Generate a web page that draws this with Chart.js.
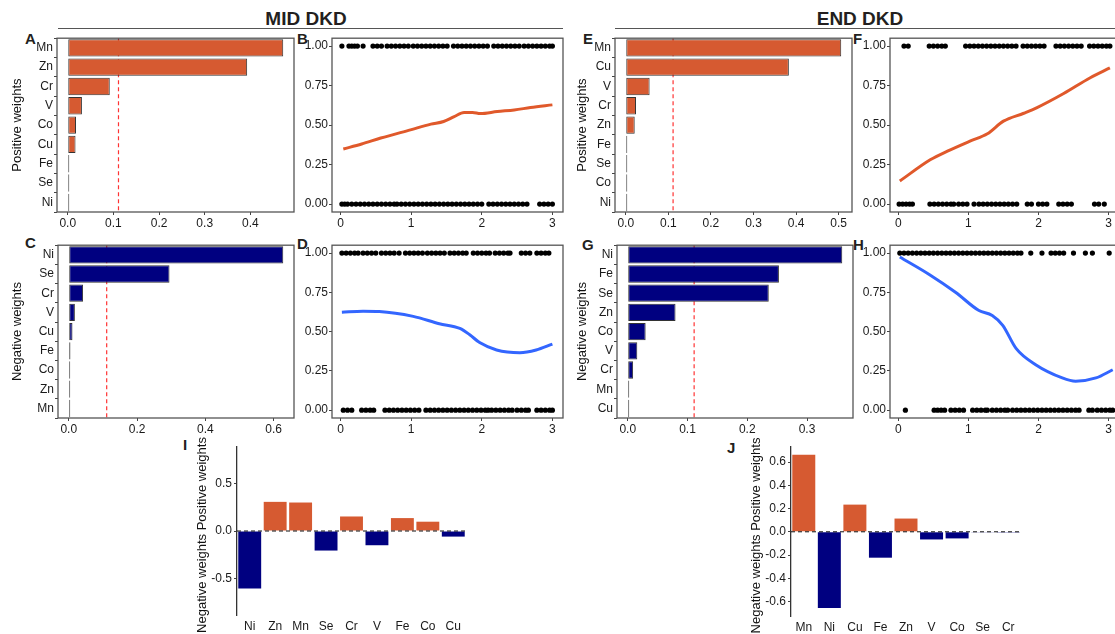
<!DOCTYPE html>
<html lang="en">
<head>
  <meta charset="UTF-8">
  <title>MID DKD / END DKD weights</title>
  <script src="https://cdn.jsdelivr.net/npm/chart.js"></script>
  <style>
    body {
      margin: 0;
      width: 1115px;
      height: 634px;
      overflow: hidden;
      position: relative;
      background: #fff;
      font-family: "Liberation Sans", Arial, sans-serif;
    }
    canvas { position: absolute; }
    .hd {
      position: absolute;
      font-weight: bold;
      font-size: 19px;
      line-height: 1;
      color: #231f20;
      transform: translateX(-50%);
      white-space: nowrap;
    }
    .rule {
      position: absolute;
      height: 0;
      border-top: 1.5px solid #555;
    }
    .tag {
      position: absolute;
      font-weight: bold;
      font-size: 15px;
      line-height: 1;
      color: #231f20;
    }
  </style>
</head>
<body>
  <div class="hd" style="left:306px; top:9px;">MID DKD</div>
  <div class="hd" style="left:860px; top:9px;">END DKD</div>
  <div class="rule" style="left:58px; top:28px; width:505px;"></div>
  <div class="rule" style="left:615px; top:28px; width:500px;"></div>

  <div class="tag" style="left:25px; top:31px;">A</div>
  <div class="tag" style="left:297px; top:31px;">B</div>
  <div class="tag" style="left:25px; top:235px;">C</div>
  <div class="tag" style="left:297px; top:236px;">D</div>
  <div class="tag" style="left:583px; top:31px;">E</div>
  <div class="tag" style="left:853px; top:31px;">F</div>
  <div class="tag" style="left:582px; top:237px;">G</div>
  <div class="tag" style="left:853px; top:237px;">H</div>
  <div class="tag" style="left:183px; top:437px;">I</div>
  <div class="tag" style="left:727px; top:440px;">J</div>

  <canvas id="cA"></canvas>
  <canvas id="cB"></canvas>
  <canvas id="cC"></canvas>
  <canvas id="cD"></canvas>
  <canvas id="cE"></canvas>
  <canvas id="cF"></canvas>
  <canvas id="cG"></canvas>
  <canvas id="cH"></canvas>
  <canvas id="cI"></canvas>
  <canvas id="cJ"></canvas>

  <script>
    // ---- data ----
    const threshold = 1 / 9;

    // MID DKD
    const aCats = ['Mn', 'Zn', 'Cr', 'V', 'Co', 'Cu', 'Fe', 'Se', 'Ni'];
    const aVals = [0.472, 0.393, 0.092, 0.031, 0.018, 0.017, 0.002, 0.001, 0.0005];
    const aTicks = [0, 0.1, 0.2, 0.3, 0.4];

    const cCats = ['Ni', 'Se', 'Cr', 'V', 'Cu', 'Fe', 'Co', 'Zn', 'Mn'];
    const cVals = [0.628, 0.295, 0.042, 0.018, 0.011, 0.005, 0.002, 0.001, 0.0005];
    const cTicks = [0, 0.2, 0.4, 0.6];

    const bTop = [0.02,0.12,0.16,0.2,0.24,0.32,0.46,0.52,0.58,0.66,0.72,0.78,0.84,0.9,0.96,1.03,1.09,1.15,1.21,1.27,1.33,1.39,1.45,1.51,1.6,1.66,1.72,1.78,1.84,1.9,1.96,2.02,2.08,2.17,2.23,2.29,2.35,2.41,2.47,2.53,2.6,2.66,2.72,2.78,2.84,2.9,2.96,3.0];
    const bBottom = [0.02,0.06,0.1,0.16,0.22,0.28,0.34,0.4,0.46,0.52,0.58,0.64,0.7,0.76,0.8,0.86,0.92,0.98,1.04,1.1,1.16,1.22,1.28,1.34,1.4,1.46,1.52,1.58,1.64,1.7,1.76,1.82,1.88,1.94,2.0,2.1,2.16,2.22,2.28,2.34,2.4,2.46,2.52,2.58,2.64,2.82,2.88,2.94,3.0];
    const bCurve = [[0.04,0.349],[0.3,0.38],[0.57,0.418],[0.99,0.47],[1.28,0.506],[1.46,0.523],[1.61,0.554],[1.75,0.58],[1.87,0.58],[1.98,0.573],[2.22,0.586],[2.46,0.596],[2.69,0.611],[3.0,0.628]];

    const dTop = [0.02,0.08,0.14,0.2,0.25,0.32,0.38,0.44,0.5,0.58,0.64,0.7,0.76,0.83,0.92,0.98,1.04,1.1,1.16,1.23,1.29,1.35,1.41,1.47,1.55,1.61,1.67,1.73,1.78,1.88,1.94,2.0,2.06,2.11,2.19,2.25,2.31,2.37,2.4,2.56,2.62,2.68,2.78,2.84,2.9,2.95];
    const dBottom = [0.04,0.1,0.16,0.3,0.36,0.42,0.47,0.63,0.69,0.75,0.81,0.87,0.93,0.99,1.05,1.11,1.21,1.27,1.33,1.39,1.45,1.51,1.57,1.63,1.69,1.75,1.81,1.87,1.93,1.99,2.05,2.09,2.14,2.2,2.26,2.32,2.38,2.43,2.5,2.56,2.62,2.66,2.78,2.84,2.9,2.96,3.0];
    const dCurve = [[0.02,0.623],[0.32,0.63],[0.55,0.628],[1.03,0.597],[1.4,0.55],[1.69,0.52],[1.83,0.48],[1.97,0.43],[2.21,0.383],[2.54,0.366],[2.77,0.383],[3.0,0.42]];

    // END DKD
    const eCats = ['Mn', 'Cu', 'V', 'Cr', 'Zn', 'Fe', 'Se', 'Co', 'Ni'];
    const eVals = [0.506, 0.383, 0.056, 0.024, 0.021, 0.001, 0.0008, 0.0005, 0.0003];
    const eTicks = [0, 0.1, 0.2, 0.3, 0.4, 0.5];

    const gCats = ['Ni', 'Fe', 'Se', 'Zn', 'Co', 'V', 'Cr', 'Mn', 'Cu'];
    const gVals = [0.359, 0.253, 0.236, 0.080, 0.030, 0.016, 0.009, 0.001, 0.0005];
    const gTicks = [0, 0.1, 0.2, 0.3];

    const fTop = [0.08,0.14,0.44,0.5,0.56,0.62,0.67,0.96,1.02,1.08,1.14,1.2,1.26,1.32,1.38,1.44,1.5,1.56,1.62,1.68,1.78,1.84,1.9,1.96,2.02,2.08,2.25,2.31,2.37,2.43,2.49,2.55,2.61,2.73,2.79,2.85,2.91,2.97,3.02];
    const fBottom = [0.01,0.06,0.11,0.16,0.2,0.45,0.51,0.57,0.63,0.69,0.75,0.79,0.86,0.92,0.98,1.08,1.15,1.21,1.27,1.33,1.39,1.45,1.51,1.57,1.63,1.69,1.84,1.9,2.0,2.06,2.12,2.29,2.35,2.41,2.47,2.8,2.86,2.94];
    const fCurve = [[0.02,0.146],[0.46,0.282],[0.7,0.335],[1.03,0.4],[1.27,0.445],[1.5,0.525],[1.79,0.575],[1.98,0.611],[2.36,0.7],[2.74,0.8],[3.02,0.862]];

    const hTop = [0.02,0.08,0.14,0.2,0.26,0.32,0.38,0.44,0.5,0.56,0.62,0.68,0.74,0.8,0.86,0.92,0.98,1.04,1.1,1.16,1.22,1.28,1.34,1.4,1.46,1.52,1.58,1.64,1.7,1.75,1.89,2.05,2.18,2.24,2.3,2.36,2.5,2.67,2.77,3.01];
    const hBottom = [0.1,0.51,0.56,0.61,0.66,0.75,0.81,0.87,0.93,1.06,1.12,1.18,1.24,1.27,1.34,1.4,1.46,1.52,1.56,1.63,1.69,1.75,1.81,1.87,1.93,1.99,2.05,2.11,2.17,2.23,2.29,2.35,2.41,2.47,2.53,2.58,2.72,2.77,2.84,2.9,2.96,3.02,3.06];
    const hCurve = [[0.02,0.975],[0.44,0.864],[0.82,0.749],[1.15,0.634],[1.34,0.603],[1.49,0.54],[1.68,0.393],[1.96,0.289],[2.34,0.205],[2.53,0.184],[2.82,0.205],[3.06,0.257]];

    const probXTicks = [0, 1, 2, 3];
    const probYTicks = [0, 0.25, 0.5, 0.75, 1];

    // combined weights
    const iCats = ['Ni', 'Zn', 'Mn', 'Se', 'Cr', 'V', 'Fe', 'Co', 'Cu'];
    const iVals = [-0.606, 0.307, 0.300, -0.206, 0.153, -0.150, 0.136, 0.098, -0.059];
    const iTicks = [-0.5, 0, 0.5];

    const jCats = ['Mn', 'Ni', 'Cu', 'Fe', 'Zn', 'V', 'Co', 'Se', 'Cr'];
    const jVals = [0.663, -0.657, 0.234, -0.223, 0.114, -0.066, -0.057, -0.003, -0.002];
    const jTicks = [-0.6, -0.4, -0.2, 0, 0.2, 0.4, 0.6];

    // ---- styling ----
    const orange = '#D65A31';
    const navy = '#000080';
    const FONT = 'Liberation Sans, Arial, sans-serif';
    Chart.defaults.font.family = FONT;
    Chart.defaults.font.size = 12;
    Chart.defaults.color = '#1a1a1a';

    // panel frame, threshold line, zero line and long side title
    const panelBox = {
      id: 'panelBox',
      beforeDatasetsDraw(chart, args, opts) {
        if (opts.vline === undefined) return;
        const { ctx, chartArea: a, scales } = chart;
        const x = scales.x.getPixelForValue(opts.vline);
        ctx.save();
        ctx.strokeStyle = '#F33';
        ctx.lineWidth = 1.2;
        ctx.setLineDash([4, 3]);
        ctx.beginPath();
        ctx.moveTo(x, a.top);
        ctx.lineTo(x, a.bottom);
        ctx.stroke();
        ctx.restore();
      },
      afterDatasetsDraw(chart, args, opts) {
        const { ctx, chartArea: a, scales } = chart;
        ctx.save();
        if (opts.hline !== undefined) {
          const y = scales.y.getPixelForValue(opts.hline);
          ctx.strokeStyle = '#111';
          ctx.lineWidth = 1;
          ctx.setLineDash([4, 3]);
          ctx.beginPath();
          ctx.moveTo(a.left, y);
          ctx.lineTo(a.right, y);
          ctx.stroke();
        }
        if (opts.frame) {
          ctx.setLineDash([]);
          ctx.strokeStyle = '#555';
          ctx.lineWidth = 1.3;
          ctx.strokeRect(a.left, a.top, a.width, a.height);
        }
        if (opts.sideTitle) {
          ctx.translate(opts.sideX, (a.top + a.bottom) / 2 + 4);
          ctx.rotate(-Math.PI / 2);
          ctx.fillStyle = '#111';
          ctx.font = '13px ' + FONT;
          ctx.textAlign = 'center';
          ctx.textBaseline = 'middle';
          ctx.fillText(opts.sideTitle, 0, 0);
        }
        ctx.restore();
      }
    };
    Chart.register(panelBox);

    function place(id, box, ml, mr, mt, mb) {
      const cv = document.getElementById(id);
      cv.width = box[2] - box[0] + ml + mr;
      cv.height = box[3] - box[1] + mt + mb;
      cv.style.left = (box[0] - ml) + 'px';
      cv.style.top = (box[1] - mt) + 'px';
      return cv;
    }

    function fixedTicks(list) {
      return s => { s.ticks = list.map(v => ({ value: v })); };
    }

    const tickGrid = { drawOnChartArea: false, tickLength: 3, color: '#444' };
    const base = {
      responsive: false,
      animation: false,
      events: []
    };

    function weightsPanel(id, box, ml, cats, vals, color, ticks, title) {
      const cv = place(id, box, ml, 4, 6, 24);
      const top = Math.max(...vals);
      return new Chart(cv, {
        type: 'bar',
        data: {
          labels: cats,
          datasets: [{
            data: vals,
            backgroundColor: color,
            borderColor: '#333',
            borderWidth: 1,
            borderSkipped: false,
            barPercentage: 0.9,
            categoryPercentage: 1,
            minBarLength: 1.5
          }]
        },
        options: {
          ...base,
          indexAxis: 'y',
          layout: { padding: { top: 6, right: 4 } },
          plugins: {
            legend: { display: false },
            tooltip: { enabled: false },
            panelBox: { vline: threshold, frame: true }
          },
          scales: {
            x: {
              min: -0.05 * top,
              max: 1.05 * top,
              afterBuildTicks: fixedTicks(ticks),
              afterFit: s => { s.height = 24; },
              grid: tickGrid,
              border: { display: false },
              ticks: { padding: 1, autoSkip: false, maxRotation: 0, callback: v => v.toFixed(1) }
            },
            y: {
              afterFit: s => { s.width = ml; },
              grid: tickGrid,
              border: { display: false },
              ticks: { padding: 1, autoSkip: false },
              title: { display: true, text: title, padding: 0, color: '#111', font: { size: 13 } }
            }
          }
        }
      });
    }

    function probPanel(id, box, top, bottom, curve, color) {
      const cv = place(id, box, 40, 4, 6, 24);
      const dot = { pointRadius: 2.6, pointBackgroundColor: '#000', pointBorderWidth: 0 };
      return new Chart(cv, {
        type: 'scatter',
        data: {
          datasets: [
            { data: top.map(x => ({ x, y: 1 })), ...dot },
            { data: bottom.map(x => ({ x, y: 0 })), ...dot },
            {
              data: curve.map(p => ({ x: p[0], y: p[1] })),
              showLine: true,
              pointRadius: 0,
              borderColor: color,
              borderWidth: 3,
              cubicInterpolationMode: 'monotone'
            }
          ]
        },
        options: {
          ...base,
          layout: { padding: { top: 6, right: 4 } },
          plugins: {
            legend: { display: false },
            tooltip: { enabled: false },
            panelBox: { frame: true }
          },
          scales: {
            x: {
              type: 'linear',
              min: -0.12,
              max: 3.15,
              afterBuildTicks: fixedTicks(probXTicks),
              afterFit: s => { s.height = 24; },
              grid: tickGrid,
              border: { display: false },
              ticks: { padding: 1, autoSkip: false, maxRotation: 0, callback: v => String(v) }
            },
            y: {
              min: -0.05,
              max: 1.05,
              afterBuildTicks: fixedTicks(probYTicks),
              afterFit: s => { s.width = 40; },
              grid: tickGrid,
              border: { display: false },
              ticks: { padding: 1, autoSkip: false, callback: v => v.toFixed(2) }
            }
          }
        }
      });
    }

    function netPanel(id, box, ml, cats, vals, ticks, yMin, yMax) {
      const cv = place(id, box, ml, 4, 17, 19);
      return new Chart(cv, {
        type: 'bar',
        data: {
          labels: cats,
          datasets: [{
            data: vals,
            backgroundColor: vals.map(v => v >= 0 ? orange : navy),
            borderWidth: 0,
            barPercentage: 0.9,
            categoryPercentage: 1
          }]
        },
        options: {
          ...base,
          layout: { padding: { top: 17, right: 4 } },
          plugins: {
            legend: { display: false },
            tooltip: { enabled: false },
            panelBox: { hline: 0, sideTitle: 'Negative weights Positive weights', sideX: 8 }
          },
          scales: {
            x: {
              afterFit: s => { s.height = 19; },
              grid: { display: false, drawTicks: false },
              border: { display: false },
              ticks: { padding: 4, autoSkip: false, maxRotation: 0 }
            },
            y: {
              min: yMin,
              max: yMax,
              afterBuildTicks: fixedTicks(ticks),
              afterFit: s => { s.width = ml; },
              grid: tickGrid,
              border: { display: true, color: '#333', width: 1.3 },
              ticks: { padding: 2, autoSkip: false, callback: v => v.toFixed(1) }
            }
          }
        }
      });
    }

    weightsPanel('cA', [57, 36, 294, 212], 47, aCats, aVals, orange, aTicks, 'Positive weights');
    weightsPanel('cC', [58, 243, 294, 418], 48, cCats, cVals, navy, cTicks, 'Negative weights');
    weightsPanel('cE', [615, 36, 852, 212], 40, eCats, eVals, orange, eTicks, 'Positive weights');
    weightsPanel('cG', [617, 243, 853, 418], 42, gCats, gVals, navy, gTicks, 'Negative weights');

    probPanel('cB', [332, 36, 563, 212], bTop, bBottom, bCurve, '#E0592B');
    probPanel('cD', [332, 243, 563, 418], dTop, dBottom, dCurve, '#3366FF');
    probPanel('cF', [890, 36, 1119, 212], fTop, fBottom, fCurve, '#E0592B');
    probPanel('cH', [890, 243, 1119, 418], hTop, hBottom, hCurve, '#3366FF');

    netPanel('cI', [237, 447, 466, 615], 43, iCats, iVals, iTicks, -0.885, 0.885);
    netPanel('cJ', [791, 447, 1021, 616], 43, jCats, jVals, jTicks, -0.725, 0.73);
  </script>
</body>
</html>
